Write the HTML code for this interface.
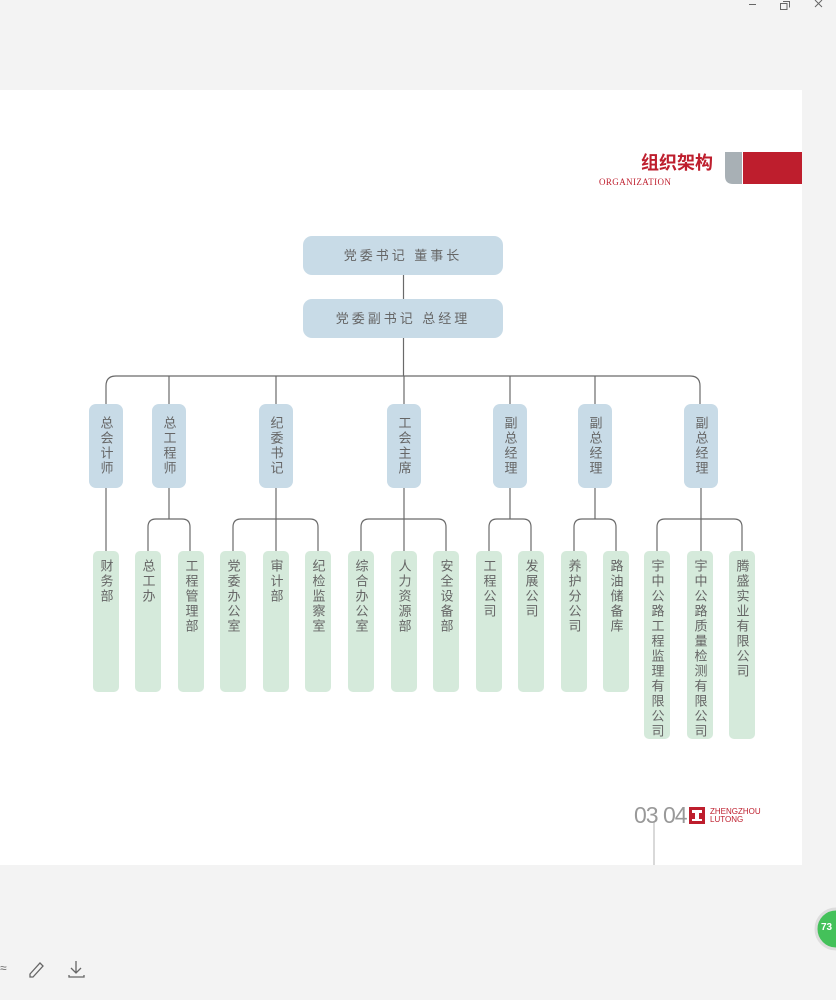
<!DOCTYPE html>
<html><head><meta charset="utf-8"><style>
body{margin:0;width:836px;height:1000px;background:#f3f3f3;position:relative;overflow:hidden;font-family:"Liberation Sans","Noto Sans CJK SC",sans-serif;}
.page{position:absolute;left:0;top:90px;width:802px;height:775px;background:#fff;}
.b{position:absolute;box-sizing:border-box;color:#666;font-size:13px;}
.top{background:#c8dbe7;border-radius:9px;width:200px;height:39px;left:303px;text-align:center;line-height:39px;letter-spacing:3px;}
.l2{background:#c8dbe7;border-radius:7px;width:34px;height:84px;top:404px;display:flex;align-items:center;justify-content:center;}
.l2 span,.l3 span{writing-mode:vertical-rl;line-height:13px;letter-spacing:2px;}
.l3{background:#d5eadb;border-radius:5px;width:26px;height:141px;top:551px;display:flex;justify-content:center;padding-top:8px;}
.l3.lg{height:188px;}
svg{position:absolute;left:0;top:0;}
</style></head><body>
<div class="page"></div>
<svg width="836" height="1000">
<g fill="none" stroke="#6a6a6a" stroke-width="1.2">
<path d="M403.5 275V299M403.5 338V376"/>
<path d="M106 404V386Q106 376 116 376H690Q700 376 700 386V404"/>
<path d="M169 376V404M276 376V404M404 376V404M510 376V404M595 376V404"/>
<path d="M106 488V551"/>
<path d="M169 488V519M148 551V527Q148 519 156 519H182Q190 519 190 527V551"/>
<path d="M276 488V551M233 551V527Q233 519 241 519H310Q318 519 318 527V551"/>
<path d="M404 488V551M361 551V527Q361 519 369 519H438Q446 519 446 527V551"/>
<path d="M510 488V519M489 551V527Q489 519 497 519H523Q531 519 531 527V551"/>
<path d="M595 488V519M574 551V527Q574 519 582 519H608Q616 519 616 527V551"/>
<path d="M701 488V551M657 551V527Q657 519 665 519H734Q742 519 742 527V551"/>
</g>
<path d="M725 152H742V184H733Q725 184 725 176Z" fill="#a8b0b5"/>
<rect x="743" y="152" width="59" height="32" fill="#be1e2d"/>
<line x1="654" y1="822" x2="654" y2="865" stroke="#ccc" stroke-width="1.5"/>
<rect x="689" y="807" width="16" height="17" fill="#be1e2d"/>
<path d="M692 810H702V813H699V819H702V821H692V819H695V813H692Z" fill="#fff"/>
<circle cx="836" cy="929" r="20" fill="#44c15a" stroke="#ddd" stroke-width="3"/>
<path d="M30 974L40 963L43 966L33 977H30Z" fill="none" stroke="#666" stroke-width="1.3"/>
<path d="M76 961V972M71 968L76 973L81 968M69 975V977H84V975" fill="none" stroke="#666" stroke-width="1.3"/>
<g fill="none" stroke="#666" stroke-width="1">
<path d="M749 4.5H756"/>
<path d="M783 1.5H789.5V7.5M780.5 3.5H787V9.5H780.5Z"/>
<path d="M815 0L822 7M822 0L815 7"/>
</g>
<text x="0" y="972" font-size="12" fill="#666" font-family="Liberation Sans">≈</text>
</svg>
<div style="position:absolute;left:641px;top:149px;font-size:18px;font-weight:bold;color:#be1e2d;font-family:'Liberation Sans','Noto Sans CJK SC',sans-serif;">组织架构</div>
<div style="position:absolute;left:599px;top:177px;font-size:9px;color:#be1e2d;font-family:'Liberation Serif',serif;letter-spacing:0.4px;">ORGANIZATION</div>
<div style="position:absolute;left:634px;top:802px;font-size:23px;color:#999;letter-spacing:-1px;">03</div>
<div style="position:absolute;left:663px;top:802px;font-size:23px;color:#999;letter-spacing:-1px;">04</div>
<div style="position:absolute;left:710px;top:808px;font-size:8px;color:#be1e2d;line-height:8px;">ZHENGZHOU<br>LUTONG</div>
<div style="position:absolute;left:821px;top:922px;font-size:10px;color:#fff;font-weight:bold;">73</div>

<div class="b top" style="top:236px;">党委书记 董事长</div>
<div class="b top" style="top:299px;">党委副书记 总经理</div>

<div class="b l2" style="left:89px"><span>总会计师</span></div>
<div class="b l2" style="left:152px"><span>总工程师</span></div>
<div class="b l2" style="left:259px"><span>纪委书记</span></div>
<div class="b l2" style="left:387px"><span>工会主席</span></div>
<div class="b l2" style="left:493px"><span>副总经理</span></div>
<div class="b l2" style="left:578px"><span>副总经理</span></div>
<div class="b l2" style="left:684px"><span>副总经理</span></div>

<div class="b l3" style="left:93px"><span>财务部</span></div>
<div class="b l3" style="left:135px"><span>总工办</span></div>
<div class="b l3" style="left:178px"><span>工程管理部</span></div>
<div class="b l3" style="left:220px"><span>党委办公室</span></div>
<div class="b l3" style="left:263px"><span>审计部</span></div>
<div class="b l3" style="left:305px"><span>纪检监察室</span></div>
<div class="b l3" style="left:348px"><span>综合办公室</span></div>
<div class="b l3" style="left:391px"><span>人力资源部</span></div>
<div class="b l3" style="left:433px"><span>安全设备部</span></div>
<div class="b l3" style="left:476px"><span>工程公司</span></div>
<div class="b l3" style="left:518px"><span>发展公司</span></div>
<div class="b l3" style="left:561px"><span>养护分公司</span></div>
<div class="b l3" style="left:603px"><span>路油储备库</span></div>
<div class="b l3 lg" style="left:644px"><span>宇中公路工程监理有限公司</span></div>
<div class="b l3 lg" style="left:687px"><span>宇中公路质量检测有限公司</span></div>
<div class="b l3 lg" style="left:729px"><span>腾盛实业有限公司</span></div>
</body></html>
